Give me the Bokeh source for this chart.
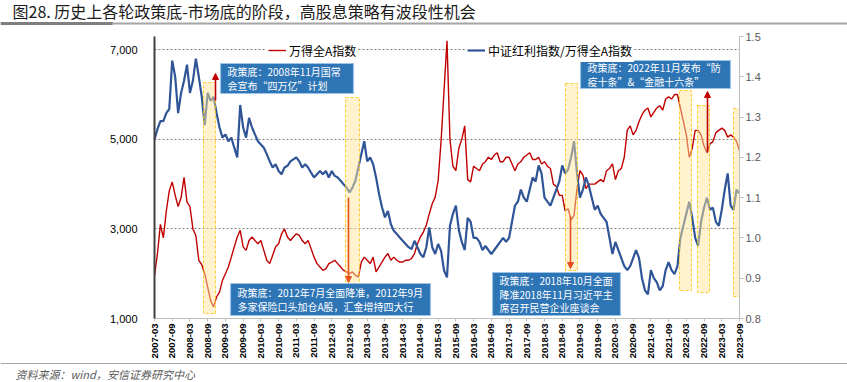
import numpy as np
import pandas as pd
from bokeh.plotting import figure
from bokeh.models import (Range1d, LinearAxis, FixedTicker, NumeralTickFormatter, Legend,
                          LegendItem, Label, Arrow, NormalHead)
from bokeh.core.properties import value
from bokeh.embed import file_html
from bokeh.resources import INLINE

# ---------------- data ----------------
months = [p.strftime("%Y-%m") for p in pd.period_range("2007-03", "2023-09", freq="M")]

# 万得全A指数 (left axis), monthly
wind_all_a = [
    1950, 2450, 3100, 2800, 3400, 3850, 4050, 3750, 3500, 3700,              # 2007 Mar-Dec
    4150, 3600, 3500, 3000, 2850, 2300, 2200, 2000, 1700, 1400, 1260, 1480,  # 2008
    1590, 1850, 2000, 2150, 2370, 2600, 2820, 2970, 2600, 2520, 2740, 2820,  # 2009
    2740, 2670, 2740, 2520, 2300, 2225, 2410, 2600, 2670, 2890, 3000, 2820,  # 2010
    2740, 2820, 2890, 2855, 2740, 2670, 2740, 2560, 2370, 2225, 2150, 2075,  # 2011
    2110, 2225, 2260, 2300, 2225, 2150, 2075, 2040, 2000, 2040, 1965, 1930,  # 2012
    2260, 2370, 2300, 2225, 2370, 2040, 2150, 2260, 2370, 2450, 2300, 2370,  # 2013
    2300, 2260, 2260, 2300, 2300, 2340, 2450, 2670, 2820, 2930, 3080, 3340,  # 2014
    3560, 3710, 4080, 4970, 6090, 7200, 5000, 4400, 4300, 4800, 5000, 5300,  # 2015
    4100, 4050, 4400, 4350, 4300, 4450, 4500, 4600, 4550, 4650, 4700, 4500,  # 2016
    4500, 4600, 4600, 4450, 4300, 4450, 4500, 4600, 4650, 4700, 4550, 4550,  # 2017
    4600, 4450, 4500, 4400, 4350, 4000, 3950, 3750, 3750, 3400, 3450, 3200,  # 2018
    3300, 3900, 4300, 4200, 3900, 4000, 4000, 4000, 4050, 4100, 4050, 4300,  # 2019
    4350, 4450, 4100, 4300, 4350, 4600, 5200, 5300, 5100, 5200, 5400, 5550,  # 2020
    5650, 5700, 5500, 5600, 5700, 5750, 5650, 5900, 5950, 5900, 6000, 6000,  # 2021
    5700, 5400, 5100, 4600, 4800, 5200, 5200, 5100, 4850, 4700, 4900, 4950,  # 2022
    5150, 5200, 5250, 5200, 5050, 5100, 5050, 4950, 4750,                    # 2023 Jan-Sep
]

# 中证红利指数/万得全A指数 (right axis), monthly
div_ratio = [
    1.245, 1.27, 1.29, 1.29, 1.31, 1.32, 1.44, 1.40, 1.31, 1.36,
    1.39, 1.43, 1.36, 1.39, 1.445, 1.40, 1.35, 1.28, 1.36, 1.34, 1.35, 1.31,
    1.274, 1.249, 1.257, 1.24, 1.249, 1.224, 1.20, 1.33, 1.274, 1.249, 1.298, 1.274,
    1.257, 1.24, 1.232, 1.224, 1.208, 1.19, 1.175, 1.183, 1.166, 1.158, 1.175, 1.179,
    1.19, 1.195, 1.20, 1.19, 1.175, 1.183, 1.175, 1.162, 1.15, 1.158, 1.166, 1.158,
    1.166, 1.15, 1.166, 1.154, 1.15, 1.142, 1.133, 1.125, 1.113, 1.125, 1.142, 1.175,
    1.208, 1.24, 1.19, 1.20, 1.183, 1.15, 1.109, 1.076, 1.051, 1.067, 1.034, 1.018,
    1.01, 1.001, 0.993, 0.985, 0.977, 0.972, 0.993, 0.977, 0.96, 0.952, 0.977, 1.026,
    0.977, 0.96, 0.985, 0.968, 0.919, 0.902, 1.03, 1.06, 1.08, 1.02, 0.99, 0.97,
    1.05, 1.04, 1.00, 1.00, 0.99, 0.97, 0.98, 0.97, 0.96, 0.97, 0.98, 0.99,
    1.00, 0.99, 1.00, 1.04, 1.08, 1.09, 1.12, 1.10, 1.09, 1.12, 1.15, 1.14,
    1.18, 1.16, 1.10, 1.09, 1.08, 1.10, 1.12, 1.14, 1.18, 1.16, 1.17, 1.20,
    1.24, 1.16, 1.10, 1.12, 1.15, 1.13, 1.10, 1.07, 1.08, 1.06, 1.05, 1.04,
    1.00, 0.96, 0.99, 0.97, 0.95, 0.93, 0.92, 0.93, 0.95, 0.97, 0.95, 0.90,
    0.87, 0.86, 0.92, 0.90, 0.89, 0.87, 0.88, 0.92, 0.94, 0.92, 0.91, 0.93,
    1.00, 1.03, 1.06, 1.09, 1.05, 1.00, 0.98, 1.04, 1.075, 1.10, 1.07, 1.075,
    1.04, 1.03, 1.07, 1.12, 1.16, 1.08, 1.07, 1.12, 1.11,
]

tick_labels = [f"{y}-{mm}" for y in range(2007, 2024) for mm in ("03", "09")]
left_ticks = [1000, 3000, 5000, 7000]
right_ticks = [0.8, 0.9, 1.0, 1.1, 1.2, 1.3, 1.4, 1.5]

title_text = "图28. 历史上各轮政策底-市场底的阶段，高股息策略有波段性机会"
source_text = "资料来源：wind，安信证券研究中心"

x = list(range(len(months)))
assert len(wind_all_a) == len(months) and len(div_ratio) == len(months)

# ---------------- layout constants ----------------
W = 847
TITLE_H = 28
SRC_H = 22
L_MIN, L_MAX = 1000, 7296
N = len(months) - 1
FW, FH = 585, 282
FRAME_LEFT, FRAME_TOP = 154, 36          # page coordinates of the plot frame
MAIN_H = 360 - TITLE_H

def px(page_x):
    return (page_x - FRAME_LEFT) * N / FW

def py(page_y):
    return L_MIN + (FRAME_TOP + FH - page_y) * (L_MAX - L_MIN) / FH

CJK = "Noto Sans CJK SC"
RED = "#C00000"
BLUE = "#2F5597"

def bare(h, y0, y1):
    f = figure(width=W, height=h, x_range=Range1d(0, W), y_range=Range1d(y1, y0),
               output_backend="svg", toolbar_location=None,
               x_axis_location=None, y_axis_location=None,
               min_border=0, min_border_left=0, min_border_right=0,
               min_border_top=0, min_border_bottom=0)
    f.outline_line_color = None
    f.xgrid.visible = False
    f.ygrid.visible = False
    return f

# ---------------- title strip ----------------
pt = bare(TITLE_H, 0, TITLE_H)
pt.text(x=[12], y=[10.5], text=[title_text], text_font=value(CJK), text_font_size=value("16px"),
        text_color="#1A1A1A", text_baseline="middle", text_align="left")
pt.quad(left=[0], right=[W], top=[22], bottom=[24], fill_color="#A6A6A6", line_color=None)
pt.quad(left=[0], right=[112], top=[21.5], bottom=[24.5], fill_color="#7F7F7F", line_color=None)

# ---------------- main chart ----------------
p = figure(frame_width=FW, frame_height=FH, x_range=Range1d(0, N), y_range=Range1d(L_MIN, L_MAX),
           output_backend="svg", toolbar_location=None,
           min_border_left=FRAME_LEFT, min_border_right=W - FRAME_LEFT - FW,
           min_border_top=FRAME_TOP - TITLE_H, min_border_bottom=MAIN_H - (FRAME_TOP - TITLE_H) - FH)
p.outline_line_color = None
p.extra_y_ranges = {"r": Range1d(0.8, 1.5)}

ya = p.yaxis[0]
ya.ticker = FixedTicker(ticks=left_ticks)
ya.formatter = NumeralTickFormatter(format="0,0")
ya.axis_line_color = "#404040"
ya.axis_line_width = 2
ya.major_tick_line_color = None
ya.minor_tick_line_color = None
ya.major_label_standoff = 11
ya.major_label_text_font = "Liberation Sans"
ya.major_label_text_font_size = "11px"
ya.major_label_text_color = "#000000"

ra = LinearAxis(y_range_name="r", ticker=FixedTicker(ticks=right_ticks),
                formatter=NumeralTickFormatter(format="0.0"))
ra.axis_line_color = "#BFBFBF"
ra.major_tick_line_color = "#BFBFBF"
ra.major_tick_in = 0
ra.major_tick_out = 4
ra.minor_tick_line_color = None
ra.major_label_standoff = 2
ra.major_label_text_font = "Liberation Sans"
ra.major_label_text_font_size = "11px"
ra.major_label_text_color = "#595959"
p.add_layout(ra, "right")

xa = p.xaxis[0]
xa.ticker = FixedTicker(ticks=list(range(0, N + 1, 6)))
xa.major_label_overrides = {t: lbl for t, lbl in zip(range(0, N + 1, 6), tick_labels)}
xa.major_label_orientation = np.pi / 2
xa.axis_line_color = "#BFBFBF"
xa.major_tick_line_color = "#BFBFBF"
xa.major_tick_in = 0
xa.major_tick_out = 3
xa.minor_tick_line_color = None
xa.major_label_standoff = 2
xa.major_label_text_font = "Liberation Sans"
xa.major_label_text_font_style = "bold"
xa.major_label_text_font_size = "9.5px"
xa.major_label_text_color = "#000000"

p.xgrid.visible = False
p.ygrid.ticker = FixedTicker(ticks=[3000, 5000, 7000])
p.ygrid.grid_line_color = "#7F7F7F"
p.ygrid.grid_line_dash = "2 2"
p.ygrid.grid_line_width = 1

r_red = p.line(x, wind_all_a, line_color=RED, line_width=1.4)
r_blue = p.line(x, div_ratio, line_color=BLUE, line_width=2.2, y_range_name="r")

# highlighted policy-bottom windows (page pixel boxes)
win_px = [(203, 215, 82, 313), (345, 359, 97, 283), (565, 577, 83, 270),
          (679, 691, 90, 290), (697, 709, 105, 292), (733, 743, 108, 296)]
p.quad(left=[px(a) for a, b, c, d in win_px], right=[px(b) for a, b, c, d in win_px],
       top=[py(c) for a, b, c, d in win_px], bottom=[py(d) for a, b, c, d in win_px],
       fill_color="#FFE699", fill_alpha=0.5, line_color="#FFC000", line_alpha=0.8,
       line_dash="3 2", line_width=1)

def arrow(xp, y0, y1, color):
    p.add_layout(Arrow(end=NormalHead(size=6, fill_color=color, line_color=color),
                       x_start=px(xp), y_start=py(y0), x_end=px(xp), y_end=py(y1),
                       line_color=color, line_width=1.6))

arrow(215, 100, 73, RED)
arrow(348, 197, 282, "#E8501E")
arrow(570, 216, 268, "#E8501E")
arrow(707, 152, 91, RED)

boxes = [
    ((220, 353, 63, 93), ["政策底：2008年11月国常", "会宣布“四万亿”计划"]),
    ((230, 430, 283, 315), ["政策底：2012年7月全面降准，2012年9月", "多家保险口头加仓A股，汇金增持四大行"]),
    ((492, 620, 272, 315), ["政策底：2018年10月全面", "降准2018年11月习近平主", "席召开民营企业座谈会"]),
    ((580, 730, 60, 88), ["政策底：2022年11月发布“防", "疫十条”&“金融十六条”"]),
]
p.quad(left=[px(b[0][0]) for b in boxes], right=[px(b[0][1]) for b in boxes],
       top=[py(b[0][2]) for b in boxes], bottom=[py(b[0][3]) for b in boxes],
       fill_color="#2E75B6", line_color="#9DC3E6", line_width=1.2)
for (l, r, t, b), lines in boxes:
    n = len(lines)
    step = 13.5
    top_c = (t + b) / 2 - step * (n - 1) / 2
    for i, s in enumerate(lines):
        p.add_layout(Label(x=px(l + 7), y=py(top_c + i * step), text=s, text_color="white",
                           text_font=CJK, text_font_size="10px", text_baseline="middle",
                           text_align="left"))

leg1 = Legend(items=[LegendItem(label="万得全A指数", renderers=[r_red])], location=(112, 256))
leg2 = Legend(items=[LegendItem(label="中证红利指数/万得全A指数", renderers=[r_blue])], location=(311, 256))
for lg in (leg1, leg2):
    lg.label_text_font = CJK
    lg.label_text_font_size = "12px"
    lg.label_text_color = "#000000"
    lg.glyph_width = 18
    lg.label_standoff = 3
    lg.padding = 2
    lg.margin = 0
    lg.border_line_alpha = 0
    lg.background_fill_alpha = 1
    lg.background_fill_color = "white"
    p.add_layout(lg)

# ---------------- source strip ----------------
ps = bare(SRC_H, 360, 360 + SRC_H)
ps.quad(left=[0], right=[W], top=[361.5], bottom=[362.5], fill_color="#A6A6A6", line_color=None)
ps.text(x=[15], y=[372], text=[source_text], text_font=value(CJK), text_font_size=value("11px"),
        text_font_style="italic", text_color="#595959", text_baseline="middle", text_align="left")

open("out.html", "w").write(file_html([pt, p, ps], INLINE))
